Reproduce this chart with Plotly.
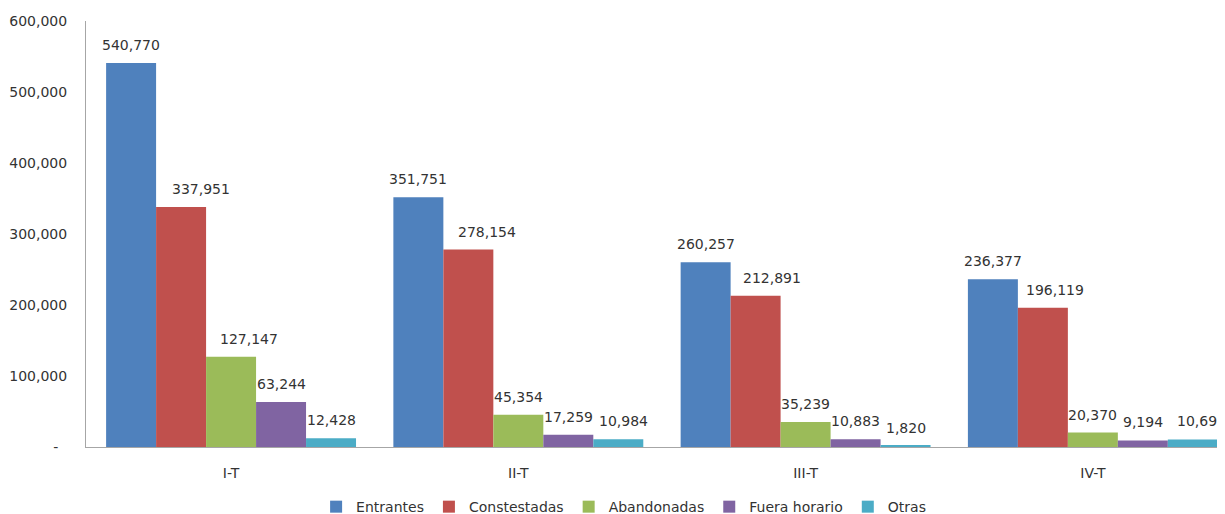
import plotly.graph_objects as go

categories = ["I-T", "II-T", "III-T", "IV-T"]
series_names = ["Entrantes", "Constestadas", "Abandonadas", "Fuera horario", "Otras"]
entrantes = [540770, 351751, 260257, 236377]
constestadas = [337951, 278154, 212891, 196119]
abandonadas = [127147, 45354, 35239, 20370]
fuera_horario = [63244, 17259, 10883, 9194]
otras = [12428, 10984, 1820, 10694]
colors = ["#4F81BD", "#C0504D", "#9BBB59", "#8064A2", "#4BACC6"]
y_ticks = [0, 100000, 200000, 300000, 400000, 500000, 600000]

series_values = [entrantes, constestadas, abandonadas, fuera_horario, otras]

# horizontal nudges (px) of individual data labels, as placed in the original chart
label_nudge = {
    (1, 0): 20, (1, 1): 19, (1, 2): 16, (1, 3): 12,
    (2, 0): 18,
    (4, 1): 5, (4, 3): 9,
}

FONT = "DejaVu Sans"
TXT = "#333333"
bw = 0.174

fig = go.Figure()
annotations = []
for j, (name, vals, col) in enumerate(zip(series_names, series_values, colors)):
    xs = [i + (j - 2) * bw for i in range(len(categories))]
    fig.add_trace(go.Bar(
        x=xs, y=vals, name=name, width=bw,
        marker=dict(color=col, line=dict(width=0)),
    ))
    for i, (x, v) in enumerate(zip(xs, vals)):
        annotations.append(dict(
            x=x, y=v, xref="x", yref="y", text=f"{v:,}", showarrow=False,
            yanchor="bottom", xanchor="center", yshift=8,
            xshift=label_nudge.get((j, i), 0),
            font=dict(family=FONT, size=14, color=TXT),
        ))

ticktext = ["-\u00a0\u00a0"] + [f"{t:,}" for t in y_ticks[1:]]

# page body has an 8px default margin: sizes below compensate for it
fig.update_layout(
    width=1217, height=506,
    margin=dict(l=78, r=0, t=13, b=67, autoexpand=False),
    paper_bgcolor="white", plot_bgcolor="white",
    font=dict(family=FONT, size=14, color=TXT),
    barmode="overlay",
    showlegend=True,
    legend=dict(
        orientation="h",
        x=0.472, y=-0.141, xanchor="center", yanchor="middle",
        font=dict(family=FONT, size=14, color=TXT),
        itemwidth=30, tracegroupgap=0,
    ),
    annotations=annotations,
    xaxis=dict(
        range=[-0.505, 3.46], automargin=False,
        tickmode="array", tickvals=list(range(len(categories))), ticktext=categories,
        showgrid=False, zeroline=False,
        showline=True, linecolor="#A6A6A6", linewidth=1,
        ticks="", ticklabelstandoff=13,
        tickfont=dict(family=FONT, size=14, color=TXT),
    ),
    yaxis=dict(
        range=[0, 600000], automargin=False,
        tickmode="array", tickvals=y_ticks, ticktext=ticktext,
        showgrid=False, zeroline=False,
        showline=True, linecolor="#A6A6A6", linewidth=1,
        ticks="", ticklabelstandoff=15,
        tickfont=dict(family=FONT, size=14, color=TXT),
    ),
)

fig.write_html("out.html")
